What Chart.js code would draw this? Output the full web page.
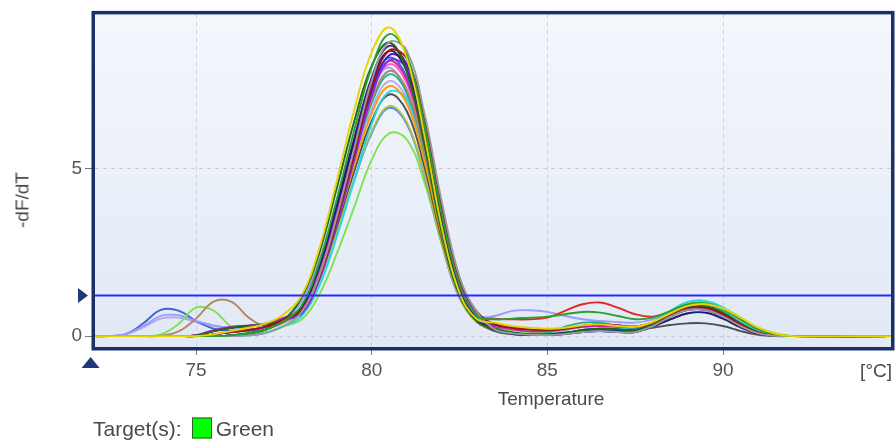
<!DOCTYPE html>
<html>
<head>
<meta charset="utf-8">
<script src="https://cdn.jsdelivr.net/npm/chart.js@4"></script>
<style>
  html, body { margin: 0; padding: 0; background: #fff; }
  #wrap { position: relative; width: 896px; height: 445px; font-family: "Liberation Sans", Arial, sans-serif; color: #4a4a4a; }
  #wrap canvas { position: absolute; left: 0; top: 0; }
  .lbl { position: absolute; white-space: nowrap; font-size: 19px; line-height: 1; }
  #ytitle { left: 22px; top: 200px; transform: translate(-50%, -50%) rotate(-90deg); }
  #xtitle { left: 551px; top: 398px; transform: translate(-50%, -50%); }
  #unit { right: 4px; top: 370px; transform: translateY(-50%); }
  #legend { left: 93px; top: 428px; transform: translateY(-50%); font-size: 21px; display: flex; align-items: center; }
  #legend .box { display: inline-block; width: 18px; height: 19px; background: #00ff00; border: 1.5px solid #2f5f2f; margin: 0 4px 0 10px; }
</style>
</head>
<body>
<div id="wrap">
  <canvas id="chart" width="896" height="445"></canvas>
  <div class="lbl" id="ytitle">-dF/dT</div>
  <div class="lbl" id="xtitle">Temperature</div>
  <div class="lbl" id="unit">[°C]</div>
  <div class="lbl" id="legend">Target(s):<span class="box"></span>Green</div>
</div>
<script>
// temperature samples (°C)
const temps = [72,72.5,73,73.5,74,74.5,75,75.5,76,76.5,77,77.5,78,78.5,79,79.5,80,80.5,81,81.5,82,82.5,83,83.5,84,84.5,85,85.5,86,86.5,87,87.5,88,88.5,89,89.5,90,90.5,91,91.5,92,95];

// -dF/dT per well
const yellow     = [0,0,0,0,0,0,0,0.05,0.15,0.25,0.38,0.65, 1.2,2.58,4.6,6.72,8.46,9.2,8.28,5.98,3.22,1.29,0.5, 0.4,0.3,0.25,0.22,0.25,0.32,0.35,0.3,0.28,0.42,0.68,0.9,0.95,0.82,0.55,0.25,0.07,0, 0];
const green      = [0,0,0,0,0,0,0,0,0.02,0.08,0.2,0.45, 0.9,2.16,4.05,6.12,8.01,9.0,8.37,6.3,3.6,1.53,0.6, 0.5,0.52,0.55,0.58,0.65,0.72,0.7,0.6,0.5,0.55,0.75,0.95,0.98,0.8,0.5,0.2,0.05,0, 0];
const grey       = [0,0,0,0,0,0,0,0,0,0.02,0.1,0.3, 0.71,1.77,3.54,5.58,7.61,8.76,8.5,6.64,3.98,1.77,0.71, 0.2,0.08,0.04,0.03,0.06,0.12,0.15,0.12,0.12,0.3,0.58,0.78,0.78,0.58,0.3,0.08,0.01,0, 0];
const darkRed    = [0,0,0,0,0,0,0,0.05,0.12,0.18,0.28,0.5, 0.75,1.72,3.44,5.42,7.4,8.51,8.26,6.45,3.87,1.72,0.72, 0.35,0.25,0.2,0.18,0.22,0.3,0.35,0.32,0.28,0.4,0.65,0.84,0.84,0.65,0.35,0.1,0.02,0, 0];
const darkGreen  = [0,0,0,0,0,0,0.02,0.15,0.25,0.3,0.35,0.5, 1.14,2.45,4.38,6.39,8.05,8.75,7.88,5.69,3.06,1.23,0.44, 0.22,0.1,0.05,0.04,0.08,0.18,0.22,0.2,0.18,0.35,0.62,0.84,0.88,0.68,0.36,0.1,0.02,0, 0];
const navy       = [0,0,0,0,0,0,0,0,0.02,0.08,0.2,0.45, 0.85,2.04,3.83,5.78,7.57,8.5,7.91,5.95,3.4,1.45,0.51, 0.18,0.06,0.03,0.04,0.1,0.16,0.18,0.15,0.14,0.28,0.5,0.68,0.7,0.52,0.26,0.07,0.01,0, 0];
const purple     = [0,0,0,0,0,0,0.02,0.15,0.25,0.3,0.35,0.5, 0.66,1.66,3.32,5.23,7.14,8.22,7.97,6.23,3.74,1.66,0.66, 0.35,0.25,0.2,0.18,0.22,0.3,0.35,0.32,0.28,0.4,0.65,0.84,0.84,0.65,0.35,0.1,0.02,0, 0];
const blue       = [0,0,0,0,0,0,0,0.05,0.12,0.18,0.28,0.5, 0.68,1.69,3.38,5.32,7.27,8.37,8.11,6.34,3.8,1.69,0.68, 0.22,0.1,0.05,0.04,0.08,0.18,0.22,0.2,0.18,0.35,0.62,0.84,0.88,0.68,0.36,0.1,0.02,0, 0];
const magenta    = [0,0,0,0,0,0,0.03,0.18,0.28,0.32,0.38,0.55, 0.82,1.97,3.69,5.58,7.3,8.2,7.63,5.74,3.28,1.39,0.49, 0.3,0.2,0.14,0.15,0.2,0.28,0.3,0.28,0.26,0.36,0.6,0.8,0.82,0.62,0.32,0.09,0.01,0, 0];
const darkPurple = [0,0,0,0,0,0,0.02,0.15,0.25,0.3,0.35,0.5, 0.87,2.08,3.89,5.88,7.7,8.65,8.04,6.06,3.46,1.47,0.52, 0.2,0.08,0.04,0.03,0.06,0.12,0.15,0.12,0.12,0.3,0.58,0.78,0.78,0.58,0.3,0.08,0.01,0, 0];
const tan        = [0,0,0,0,0.01,0.14,0.52,1.03,1.03,0.55,0.28,0.4, 0.79,1.9,3.56,5.37,7.03,7.9,7.35,5.53,3.16,1.34,0.47, 0.35,0.25,0.2,0.18,0.22,0.3,0.35,0.32,0.28,0.4,0.65,0.84,0.84,0.65,0.35,0.1,0.02,0, 0];
const teal       = [0,0,0,0,0,0,0,0,0.02,0.08,0.2,0.45, 0.78,1.87,3.51,5.3,6.94,7.8,7.25,5.46,3.12,1.33,0.47, 0.25,0.1,0.06,0.1,0.28,0.4,0.4,0.3,0.25,0.38,0.65,0.9,0.95,0.75,0.4,0.12,0.02,0, 0];
const orange     = [0,0,0,0,0,0,0,0.05,0.12,0.18,0.28,0.5, 0.75,1.79,3.35,5.07,6.63,7.45,6.93,5.22,2.98,1.27,0.45, 0.18,0.06,0.03,0.04,0.1,0.16,0.18,0.15,0.14,0.28,0.5,0.68,0.7,0.52,0.26,0.07,0.01,0, 0];
const cyan       = [0,0,0,0,0,0,0,0,0,0.02,0.1,0.3, 0.59,1.47,2.94,4.63,6.32,7.28,7.06,5.51,3.31,1.47,0.59, 0.2,0.08,0.05,0.08,0.2,0.3,0.3,0.25,0.25,0.42,0.75,1.02,1.05,0.85,0.48,0.15,0.03,0, 0];
const darkGrey   = [0,0,0,0,0,0,0,0,0.02,0.08,0.2,0.45, 0.72,1.73,3.24,4.9,6.41,7.2,6.7,5.04,2.88,1.22,0.43, 0.15,0.06,0.04,0.05,0.1,0.15,0.18,0.2,0.2,0.25,0.33,0.38,0.38,0.3,0.15,0.04,0,0, 0];
const olive      = [0,0,0,0,0,0,0,0,0.02,0.08,0.2,0.45, 0.69,1.64,3.08,4.66,6.1,6.85,6.37,4.8,2.74,1.16,0.41, 0.3,0.2,0.15,0.15,0.2,0.28,0.32,0.3,0.28,0.4,0.66,0.88,0.92,0.8,0.52,0.24,0.07,0, 0];
const skyBlue    = [0,0,0,0,0,0,0,0.05,0.12,0.18,0.28,0.5, 0.68,1.63,3.06,4.62,6.05,6.8,6.32,4.76,2.72,1.16,0.41, 0.2,0.08,0.04,0.03,0.06,0.12,0.15,0.12,0.12,0.3,0.58,0.78,0.78,0.58,0.3,0.08,0.01,0, 0];
const lightGreen = [0,0,0,0,0.05,0.36,0.85,0.76,0.28,0.1,0.12,0.3, 0.49,1.22,2.44,3.84,5.25,6.04,5.86,4.58,2.75,1.22,0.49, 0.3,0.15,0.1,0.1,0.18,0.28,0.3,0.28,0.26,0.4,0.68,0.95,1.0,0.85,0.55,0.25,0.08,0, 0];
const red        = [0,0,0,0,0,0,0,0,0.02,0.08,0.2,0.45, 0.85,2.04,3.83,5.78,7.57,8.5,7.91,5.95,3.4,1.45,0.6, 0.52,0.5,0.5,0.55,0.75,0.95,1.0,0.85,0.65,0.58,0.72,0.88,0.9,0.7,0.38,0.1,0.02,0, 0];
const lavender   = [0,0,0.06,0.3,0.6,0.62,0.45,0.32,0.24,0.2,0.25,0.45, 1.04,2.24,4.0,5.84,7.36,8.0,7.2,5.2,2.8,1.12,0.6, 0.6,0.75,0.77,0.72,0.6,0.5,0.45,0.42,0.4,0.5,0.7,0.85,0.85,0.65,0.35,0.1,0.02,0, 0];
const royalBlue  = [0,0,0.06,0.38,0.78,0.76,0.45,0.22,0.15,0.15,0.25,0.45, 0.83,1.99,3.74,5.64,7.39,8.3,7.72,5.81,3.32,1.41,0.5, 0.22,0.1,0.05,0.04,0.08,0.18,0.22,0.2,0.18,0.35,0.62,0.84,0.88,0.68,0.36,0.1,0.02,0, 0];
const pink       = [0,0,0,0,0,0,0.02,0.15,0.25,0.3,0.35,0.5, 0.81,1.94,3.65,5.51,7.21,8.1,7.53,5.67,3.24,1.38,0.49, 0.3,0.2,0.14,0.15,0.2,0.28,0.3,0.28,0.26,0.36,0.6,0.8,0.82,0.62,0.32,0.09,0.01,0, 0];
const periwinkle = [0,0,0.05,0.26,0.52,0.55,0.42,0.3,0.22,0.18,0.22,0.42, 0.76,1.82,3.42,5.17,6.76,7.6,7.07,5.32,3.04,1.29,0.46, 0.35,0.25,0.2,0.18,0.22,0.3,0.35,0.32,0.28,0.4,0.65,0.84,0.84,0.65,0.35,0.1,0.02,0, 0];

const curves = [yellow, green, grey, darkRed, darkGreen, navy, purple, blue, magenta, darkPurple, tan, teal,
                orange, cyan, darkGrey, olive, skyBlue, lightGreen, red, lavender, royalBlue, pink, periwinkle];
const curveColors = ['#e6d400', '#2ca02c', '#9a9a9a', '#a01414', '#1c6a1c', '#1c1c80', '#8a2be2', '#2b2bd0',
                     '#d020b0', '#4b1a7a', '#b08868', '#20b08a', '#ff9900', '#22d8e8', '#505050', '#b0c040',
                     '#3a8cff', '#80e050', '#e02828', '#9c9cff', '#4060d8', '#ff5ec8', '#b4a8f0'];

const threshold = 1.21;
const startTemp = 72;
const xTicks = [75, 80, 85, 90];
const yTicks = [0, 5];

const frame = {
    id: 'frame',
    beforeDraw(chart) {
        const { ctx, chartArea: a } = chart;
        const g = ctx.createLinearGradient(0, a.top, 0, a.bottom);
        g.addColorStop(0, '#f4f7fc');
        g.addColorStop(1, '#e1e9f5');
        ctx.save();
        ctx.fillStyle = g;
        ctx.fillRect(a.left, a.top, a.right - a.left, a.bottom - a.top);
        ctx.restore();
    },
    afterDatasetsDraw(chart) {
        const { ctx, chartArea: a } = chart;
        const y = chart.scales.y.getPixelForValue(threshold);
        ctx.save();
        ctx.strokeStyle = '#2a2aff';
        ctx.lineWidth = 2.2;
        ctx.beginPath();
        ctx.moveTo(a.left, y);
        ctx.lineTo(a.right, y);
        ctx.stroke();
        ctx.restore();
    },
    afterDraw(chart) {
        const { ctx, chartArea: a } = chart;
        ctx.save();
        ctx.strokeStyle = '#1b3068';
        ctx.lineWidth = 3.5;
        ctx.strokeRect(a.left - 1.75, a.top - 1.75, a.right - a.left + 3.5, a.bottom - a.top + 3.5);
        // threshold marker
        const ty = chart.scales.y.getPixelForValue(threshold);
        ctx.fillStyle = '#1e3a78';
        ctx.beginPath();
        ctx.moveTo(78, ty - 7.5);
        ctx.lineTo(88, ty);
        ctx.lineTo(78, ty + 7.5);
        ctx.closePath();
        ctx.fill();
        // start marker
        const sx = chart.scales.x.getPixelForValue(startTemp);
        ctx.beginPath();
        ctx.moveTo(sx - 9, 368);
        ctx.lineTo(sx, 357);
        ctx.lineTo(sx + 9, 368);
        ctx.closePath();
        ctx.fill();
        ctx.restore();
    }
};

const tickFont = { family: '"Liberation Sans", Arial, sans-serif', size: 19 };

new Chart(document.getElementById('chart'), {
    type: 'line',
    data: {
        datasets: curves.map((vals, i) => ({
            label: 'well ' + (i + 1),
            data: vals.map((v, j) => ({ x: temps[j], y: v })),
            borderColor: curveColors[i],
            borderWidth: 1.9,
            pointRadius: 0,
            tension: 0.4,
            fill: false
        }))
    },
    options: {
        responsive: false,
        animation: false,
        events: [],
        layout: { padding: { left: 0, right: 5, top: 12, bottom: 0 }, autoPadding: false },
        plugins: { legend: { display: false }, tooltip: { enabled: false } },
        scales: {
            x: {
                type: 'linear',
                min: 72.125,
                max: 94.78,
                afterBuildTicks(scale) { scale.ticks = xTicks.map(v => ({ value: v })); },
                afterFit(scale) { scale.height = 98; },
                grid: { color: '#c9ced6', lineWidth: 1, tickLength: 8, tickColor: '#777', tickBorderDash: [] },
                border: { display: false, dash: [4, 4] },
                ticks: { font: tickFont, color: '#555', padding: 4, maxRotation: 0 }
            },
            y: {
                min: -0.325,
                max: 9.586,
                afterBuildTicks(scale) { scale.ticks = yTicks.map(v => ({ value: v })); },
                afterFit(scale) { scale.width = 95; },
                grid: { color: '#c9ced6', lineWidth: 1, tickLength: 10, tickColor: '#777', tickBorderDash: [] },
                border: { display: false, dash: [4, 4] },
                ticks: { font: tickFont, color: '#555', padding: 3 }
            }
        }
    },
    plugins: [frame]
});
</script>
</body>
</html>
